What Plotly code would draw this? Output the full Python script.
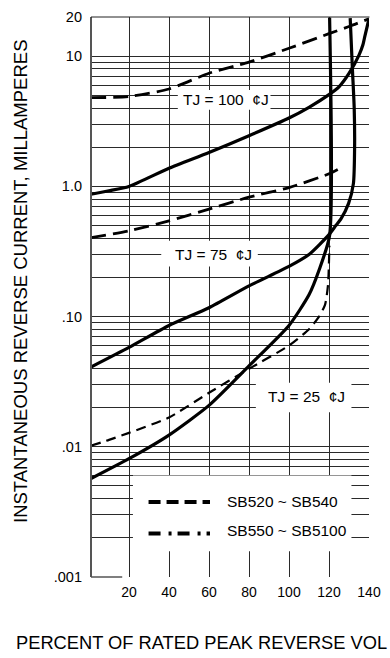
import math
import plotly.graph_objects as go

# ---------------- data ----------------
# percent of rated peak reverse voltage  vs  reverse current (mA)
pct_100_a = [1, 20, 40, 60, 80, 100, 120, 130, 140]
ma_100_a = [4.8, 4.9, 5.6, 7.4, 9.0, 11.5, 14.9, 16.9, 19.4]          # SB520~SB540, TJ=100
pct_100_b = [1, 10, 20, 40, 60, 80, 100, 110, 120, 125, 130, 135, 137, 138, 140]
ma_100_b = [0.87, 0.925, 1.0, 1.38, 1.82, 2.45, 3.35, 4.05, 5.07, 5.82, 7.37, 10.2, 12.3, 14.4, 19.4]

pct_75_a = [1, 20, 40, 60, 80, 100, 120, 127]
ma_75_a = [0.404, 0.456, 0.543, 0.67, 0.826, 0.98, 1.25, 1.42]        # SB520~SB540, TJ=75
pct_75_b = [1, 20, 40, 60, 80, 100, 110, 120, 123.4, 125.9, 129.8, 132.2, 132.8, 132.6, 131.7, 130.6]
ma_75_b = [0.041, 0.058, 0.0855, 0.117, 0.172, 0.243, 0.30, 0.426, 0.50, 0.56, 0.74, 1.05, 2.0, 4.0, 8.0, 19.6]

pct_25_a = [1, 10, 20, 40, 60, 80, 100, 110, 115, 118, 119.5, 120.2]
ma_25_a = [0.0102, 0.0113, 0.0128, 0.0168, 0.026, 0.0397, 0.060, 0.080, 0.100, 0.123, 0.175, 0.35]
pct_25_b = [1, 20, 40, 60, 80, 100, 110, 115, 120.3, 120.3]
ma_25_b = [0.0057, 0.0081, 0.0123, 0.0208, 0.0418, 0.0855, 0.147, 0.227, 0.42, 19.8]

x_ticks = [20, 40, 60, 80, 100, 120, 140]
y_tickvals = [0.001, 0.01, 0.1, 1, 10, 20]
y_ticktext = [".001", ".01", ".10", "1.0", "10", "20"]
temp_labels = ["TJ = 100  \u00a2J", "TJ = 75  \u00a2J", "TJ = 25  \u00a2J"]
series_labels = ["SB520 ~ SB540", "SB550 ~ SB5100"]
x_title = "PERCENT OF RATED PEAK REVERSE VOL"
y_title = "INSTANTANEOUS REVERSE CURRENT, MILLAMPERES"

# ---------------- layout geometry ----------------
W, H = 390, 658
L, R, T, B = 91, 14, 9, 81
PW, PH = W - L - R, H - T - B
FONT = "Liberation Sans, Arial, Helvetica, sans-serif"
GRID = "#2a2a2a"


def P(px, py):
    """pixel -> paper coordinates"""
    return (px - L) / PW, (H - B - py) / PH


fig = go.Figure()

dash_big = "15px,7px"
dash_small = "10px,6px"
curves = [
    (pct_100_a, ma_100_a, dash_big, 2.8),
    (pct_75_a, ma_75_a, dash_big, 2.8),
    (pct_25_a, ma_25_a, dash_small, 2.2),
    (pct_100_b, ma_100_b, "solid", 3.2),
    (pct_75_b, ma_75_b, "solid", 3.2),
    (pct_25_b, ma_25_b, "solid", 3.2),
]
for xs, ys, dash, w in curves:
    fig.add_trace(go.Scatter(
        x=xs, y=ys, mode="lines",
        line=dict(color="black", width=w, dash=dash, shape="spline", smoothing=0.6),
        showlegend=False, hoverinfo="skip"))

shapes = []


def white_box(px0, py0, px1, py1):
    x0, y0 = P(px0, py1)
    x1, y1 = P(px1, py0)
    shapes.append(dict(type="rect", xref="paper", yref="paper", x0=x0, x1=x1, y0=y0, y1=y1,
                       fillcolor="white", line=dict(width=0), layer="above"))


white_box(180, 83, 275, 103)     # TJ=100 label
white_box(163, 236, 262, 262)    # TJ=75 label
white_box(260, 380, 358, 410)    # TJ=25 label
white_box(134, 474, 358, 551)    # legend


def pline(px0, py0, px1, py1, color="black", width=1, dash="solid", layer="above"):
    x0, y0 = P(px0, py0)
    x1, y1 = P(px1, py1)
    shapes.append(dict(type="line", xref="paper", yref="paper", x0=x0, y0=y0, x1=x1, y1=y1,
                       line=dict(color=color, width=width, dash=dash), layer=layer))


# frame
pline(91, 9, 91, 577, color="#555555", width=2)
pline(91, 9, 376.5, 9, color="#222222", width=1)
pline(91, 577, 123, 577, color="#555555", width=1.5)
# legend samples
pline(150, 501, 213, 501, width=4, dash="12px,6px")
pline(150, 533, 213, 533, width=4, dash="12px,8px,3px,6px")

annotations = []


def label(text, px, py, size=15.5, anchor="center", angle=0):
    x, y = P(px, py)
    annotations.append(dict(text=text, x=x, y=y, xref="paper", yref="paper", showarrow=False,
                            xanchor=anchor, yanchor="middle", textangle=angle,
                            font=dict(family=FONT, size=size, color="black")))


label(temp_labels[0], 229, 93)
label(temp_labels[1], 217, 250)
label(temp_labels[2], 311.5, 394)
label(series_labels[0], 228, 500, anchor="left")
label(series_labels[1], 228, 530, anchor="left")
label(x_title, 12, 643, size=18.3, anchor="left")
label(y_title, 18.5, 277.5, size=18.5, angle=-90)

fig.update_layout(
    width=W, height=H, autosize=False,
    margin=dict(l=L, r=R, t=T, b=B, pad=0),
    paper_bgcolor="white", plot_bgcolor="white",
    font=dict(family=FONT, color="black"),
    shapes=shapes, annotations=annotations,
    showlegend=False,
    xaxis=dict(type="linear", range=[1, 140], tickmode="array", tickvals=x_ticks,
               showgrid=True, gridcolor=GRID, gridwidth=1, zeroline=False, showline=False,
               ticks="", ticklabelstandoff=5, tickfont=dict(size=14, family=FONT)),
    yaxis=dict(type="log", range=[-3, math.log10(20)], tickmode="array",
               tickvals=y_tickvals, ticktext=y_ticktext,
               showgrid=True, gridcolor=GRID, gridwidth=1, zeroline=False, showline=False,
               ticks="", ticklabelstandoff=8, tickfont=dict(size=14.5, family=FONT),
               minor=dict(dtick="D1", showgrid=True, gridcolor=GRID, gridwidth=1, ticks="")),
)

fig.write_html("out.html", config={"displayModeBar": False},
               post_script="document.body.style.margin='0';document.body.style.overflow='hidden';")
